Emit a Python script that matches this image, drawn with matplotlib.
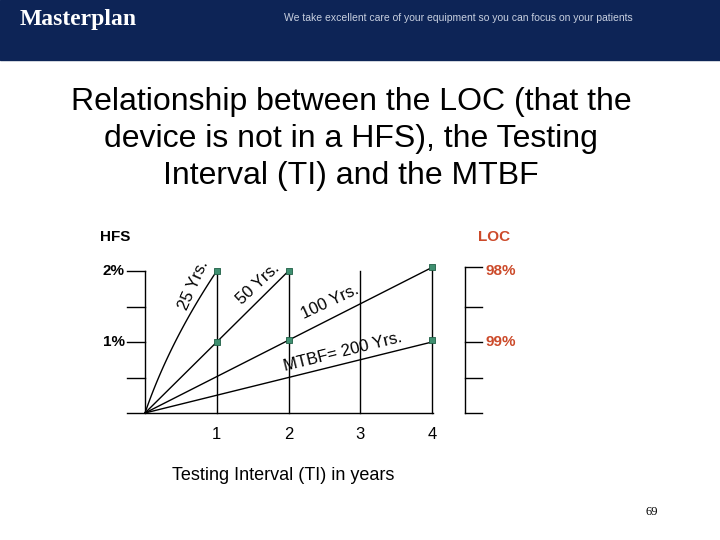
import matplotlib
matplotlib.use("Agg")
import matplotlib.pyplot as plt
import numpy as np
from matplotlib.patches import Rectangle

plt.rcParams['font.family'] = ['Liberation Sans', 'DejaVu Sans']

ti_ticks = [1, 2, 3, 4]
ti_lines_top = [2.0, 2.0, 2.0, 2.05]
line_25_x = [0, 0.42, 1]
line_25_y = [0, 1.0, 2.0]
line_50 = ([0, 2], [0, 2.0])
line_100 = ([0, 4], [0, 2.05])
line_200 = ([0, 4], [0, 1.0])
pts_x = [1, 2, 4, 1, 2, 4]
pts_y = [2.0, 2.0, 2.05, 1.0, 1.03, 1.03]
left_labels = ['2%', '1%']
right_labels = ['98%', '99%']
label_levels = [2, 1]

fig = plt.figure(figsize=(7.2, 5.4), dpi=100)
ax = fig.add_axes([0, 0, 1, 1])
sx, sy = 71.75, 71.0
ax.set_xlim(-145/sx, (720-145)/sx)
ax.set_ylim((413-540)/sy, 413/sy)
ax.axis('off')

def px(x, y):
    return ((x-145)/sx, (413-y)/sy)

# header
x0, y0 = px(0, 60)
ax.add_patch(Rectangle((x0, y0), 720/sx, 60/sy, color='#0d2456', zorder=0))
ax.text(*px(20, 20), 'Masterplan', color='white', fontsize=17, fontweight='bold',
        family='Liberation Serif', va='center')
ax.text(*px(284, 18), 'We take excellent care of your equipment so you can focus on your patients',
        color='#c8d0e0', fontsize=7.5, va='center')

title = "Relationship between the LOC (that the\ndevice is not in a HFS), the Testing\nInterval (TI) and the MTBF"
ax.text(*px(351, 139), title, ha='center', va='center', fontsize=23, linespacing=1.3)

lw = 1.0
ax.plot([-18/sx, 4.02], [0, 0], color='black', lw=lw)
ax.plot([0, 0], [0, 2.0], color='black', lw=lw)
for yv in [0.5, 1, 1.5, 2]:
    ax.plot([-18/sx, 0], [yv, yv], color='black', lw=lw)
rx = (465-145)/sx
ax.plot([rx, rx], [0, 2.05], color='black', lw=lw)
for yv in [0, 0.5, 1, 1.5, 2.05]:
    ax.plot([rx, rx+17/sx], [yv, yv], color='black', lw=lw)
for t, top in zip(ti_ticks, ti_lines_top):
    ax.plot([t, t], [0, top], color='black', lw=lw)
    ax.text(t, -0.3, str(t), ha='center', va='center', fontsize=12)

tt = np.linspace(0, 1, 50)
cx = 2*line_25_x[1] - 0.5*(line_25_x[0]+line_25_x[2])
cy = 2*line_25_y[1] - 0.5*(line_25_y[0]+line_25_y[2])
bx = (1-tt)**2*line_25_x[0] + 2*(1-tt)*tt*cx + tt**2*line_25_x[2]
by = (1-tt)**2*line_25_y[0] + 2*(1-tt)*tt*cy + tt**2*line_25_y[2]
ax.plot(bx, by, color='black', lw=lw)
for xs, ys in [line_50, line_100, line_200]:
    ax.plot(xs, ys, color='black', lw=lw)
ax.scatter(pts_x, pts_y, s=22, marker='s', color='#3f8f70', edgecolor='#1f5f45',
           linewidth=0.6, zorder=5)

ax.text(*px(194, 285), '25 Yrs.', rotation=66, ha='center', va='center', fontsize=12)
ax.text(*px(258, 284), '50 Yrs.', rotation=43, ha='center', va='center', fontsize=12)
ax.text(*px(330, 302), '100 Yrs.', rotation=25, ha='center', va='center', fontsize=12)
ax.text(*px(343, 352), 'MTBF= 200 Yrs.', rotation=14, ha='center', va='center', fontsize=12)

red = '#cc4a2a'
ax.text(*px(100, 237), 'HFS', fontsize=11, fontweight='bold', va='center')
ax.text(*px(510, 237), 'LOC', fontsize=11, fontweight='bold', va='center', ha='right', color=red)
for lab, rlab, lv in zip(left_labels, right_labels, label_levels):
    ax.text(-20/sx, lv, lab, fontsize=11, fontweight='bold', va='center', ha='right')
    ax.text(rx + 20/sx, lv, rlab, fontsize=11, fontweight='bold', va='center', ha='left', color=red)

ax.text(*px(283, 476), 'Testing Interval (TI) in years', ha='center', va='center', fontsize=13)
ax.text(*px(652, 512), '69', ha='center', va='center', fontsize=9, family='Liberation Serif')

fig.savefig('out.png', dpi=100)
